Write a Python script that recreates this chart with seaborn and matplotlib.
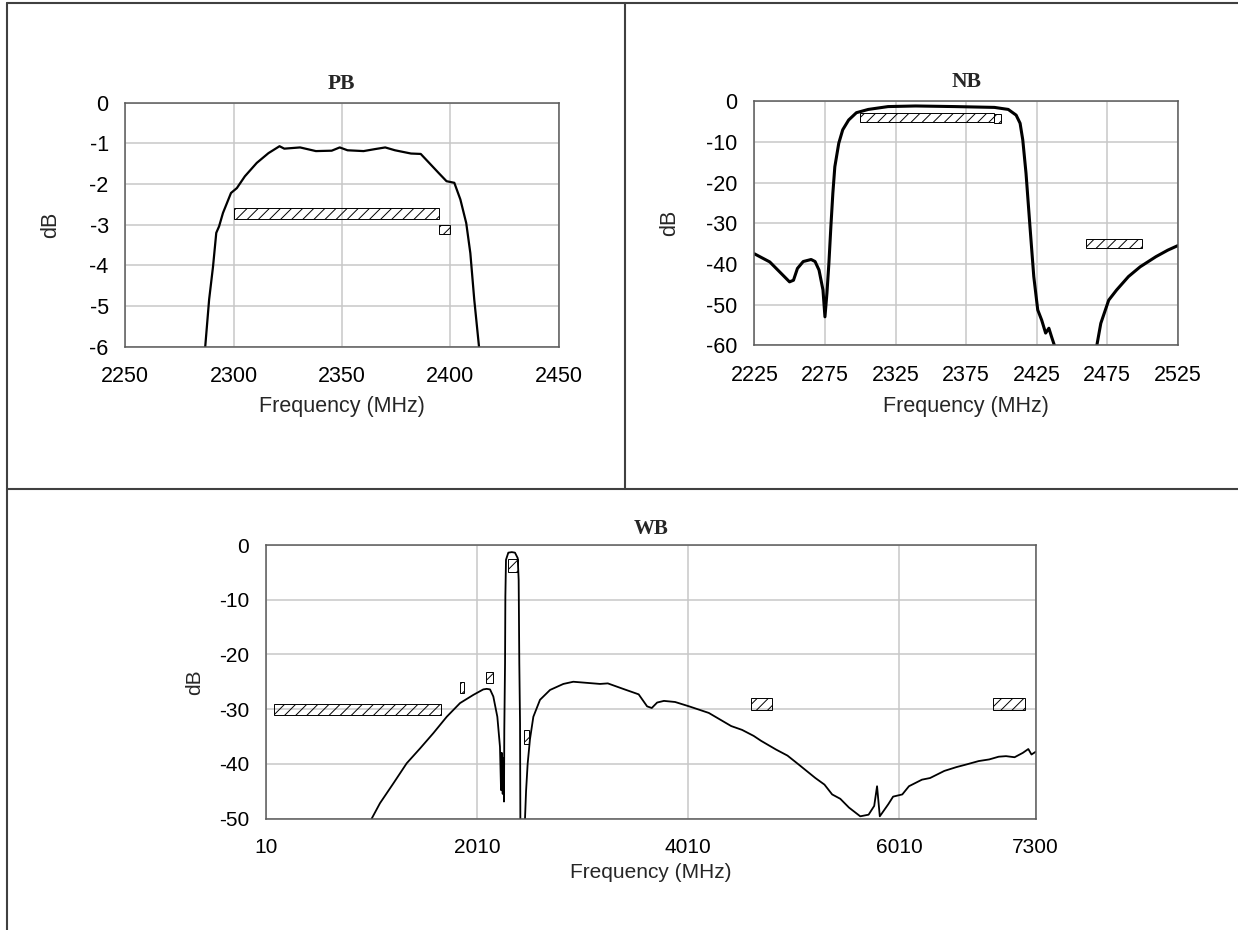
import matplotlib
matplotlib.use("Agg")
import matplotlib.pyplot as plt
import seaborn as sns
from matplotlib.lines import Line2D

# PB curve (MHz, dB)
pb_freq = [2285.5, 2286.9, 2288.7, 2290.5, 2292.0, 2293.3, 2295.1, 2298.8, 2301.5, 2305.2,
           2310.7, 2316.1, 2321.2, 2323.4, 2330.7, 2338.0, 2345.3, 2349.0, 2352.6, 2360.0,
           2365.4, 2370.0, 2374.5, 2381.9, 2386.4, 2391.0, 2394.7, 2398.3, 2401.9, 2404.7,
           2407.4, 2409.3, 2411.1, 2413.3, 2414.5]
pb_db = [-7.0, -6.0, -4.84, -4.03, -3.2, -3.04, -2.71, -2.22, -2.1, -1.81,
         -1.48, -1.24, -1.07, -1.13, -1.1, -1.19, -1.18, -1.1, -1.17, -1.19,
         -1.14, -1.1, -1.17, -1.25, -1.26, -1.52, -1.73, -1.93, -1.97, -2.38,
         -2.96, -3.7, -4.84, -6.0, -7.0]

# NB curve
nb_freq = [2225, 2235.9, 2249.9, 2252.7, 2255.5, 2259.6, 2265.2, 2268, 2270.8, 2273.6,
           2275, 2276.4, 2277.8, 2279.2, 2280.6, 2282, 2284.8, 2287.6, 2291.8, 2297.3,
           2305.7, 2319.7, 2339.2, 2367.2, 2395.1, 2404.9, 2410.5, 2413.3, 2415.2, 2417.5,
           2420.3, 2423, 2425.8, 2428.6, 2431.4, 2433.7, 2435.6, 2437.6, 2440, 2465,
           2467.7, 2470.5, 2476.1, 2481.7, 2490.1, 2498.4, 2509.6, 2518, 2525]
nb_db = [-37.5, -39.5, -44.4, -44.0, -41.1, -39.4, -38.9, -39.4, -41.5, -46.4,
         -53.0, -47.2, -39.8, -30.8, -22.6, -16.1, -10.3, -7.0, -4.6, -2.8,
         -2.0, -1.3, -1.15, -1.3, -1.5, -2.0, -3.4, -5.4, -9.5, -17.7,
         -30.8, -43.1, -51.3, -53.8, -57.0, -55.8, -57.9, -60.0, -66, -66,
         -60.0, -54.6, -48.9, -46.4, -43.1, -40.7, -38.2, -36.6, -35.5]

# WB curve
wb_freq = [950, 1014, 1092, 1218, 1345, 1471, 1597, 1724, 1850, 1976,
           2070, 2102, 2134, 2165, 2203, 2228, 2238, 2245, 2254, 2260,
           2266, 2269, 2276, 2279, 2285, 2307, 2340, 2370, 2396, 2405,
           2411, 2418, 2421, 2425, 2460, 2465, 2475, 2490, 2512, 2544,
           2607, 2702, 2828, 2922, 3049, 3175, 3249, 3408, 3541, 3621,
           3665, 3716, 3780, 3886, 4019, 4205, 4417, 4520, 4630, 4700,
           4842, 4950, 5054, 5214, 5300, 5373, 5450, 5532, 5639, 5718,
           5771, 5798, 5824, 5904, 5950, 6037, 6100, 6223, 6300, 6435,
           6550, 6648, 6760, 6860, 6950, 7019, 7100, 7178, 7230, 7260, 7300]
wb_db = [-55, -50, -47.2, -43.6, -39.9, -37.2, -34.4, -31.4, -28.9, -27.4,
         -26.4, -26.3, -26.4, -27.7, -31.4, -36.9, -44.8, -38.0, -45.5, -39.0,
         -46.9, -33.8, -21.6, -9.4, -2.7, -1.4, -1.3, -1.4, -2.4, -6.4,
         -21.6, -32.6, -50, -55, -55, -50, -45.0, -40.0, -35.5, -31.4,
         -28.3, -26.5, -25.4, -25.0, -25.2, -25.4, -25.3, -26.4, -27.3, -29.5,
         -29.8, -28.8, -28.5, -28.7, -29.5, -30.7, -33.1, -33.8, -34.9, -35.8,
         -37.4, -38.5, -40.1, -42.6, -43.8, -45.6, -46.4, -48.0, -49.6, -49.3,
         -47.7, -44.1, -49.6, -47.4, -46.0, -45.6, -44.1, -42.9, -42.6, -41.3,
         -40.6, -40.1, -39.5, -39.2, -38.7, -38.6, -38.8, -38.0, -37.3, -38.3, -37.8]

# hatched spec masks: start, stop, low, high
pb_mask_start = [2300, 2395]
pb_mask_stop = [2395, 2400]
pb_mask_low = [-2.86, -3.23]
pb_mask_high = [-2.6, -3.0]

nb_mask_start = [2300, 2395, 2460]
nb_mask_stop = [2395, 2400, 2500]
nb_mask_low = [-5.2, -5.4, -36.1]
nb_mask_high = [-3.0, -3.2, -33.9]

wb_mask_start = [90, 1850, 2100, 2300, 2460, 4600, 6900]
wb_mask_stop = [1670, 1890, 2160, 2400, 2500, 4800, 7200]
wb_mask_low = [-31.1, -27.1, -25.3, -4.9, -36.3, -30.2, -30.2]
wb_mask_high = [-29.1, -25.0, -23.2, -2.6, -33.8, -28.0, -28.0]

pb_xticks = [2250, 2300, 2350, 2400, 2450]
pb_yticks = [0, -1, -2, -3, -4, -5, -6]
nb_xticks = [2225, 2275, 2325, 2375, 2425, 2475, 2525]
nb_yticks = [0, -10, -20, -30, -40, -50, -60]
wb_xticks = [10, 2010, 4010, 6010, 7300]
wb_yticks = [0, -10, -20, -30, -40, -50]

sns.set_theme(style="whitegrid")
plt.rcParams['font.family'] = ['Liberation Sans', 'DejaVu Sans']
plt.rcParams['hatch.linewidth'] = 0.7
plt.rcParams['axes.unicode_minus'] = False

W, H = 1238, 930
fig = plt.figure(figsize=(W / 100, H / 100), dpi=100)


def px_axes(l, t, r, b):
    return fig.add_axes([l / W, 1 - b / H, (r - l) / W, (b - t) / H])


def setup(ax, title, freq, db, lw, masks, xlim, ylim, xticks, yticks,
          ylab_x, xlab_y, title_y, fs, tfs):
    sns.lineplot(x=freq, y=db, ax=ax, color="black", linewidth=lw, sort=False, estimator=None)
    start, stop, low, high = masks
    ax.bar(start, [h - l for h, l in zip(high, low)],
           width=[e - s for s, e in zip(start, stop)], bottom=low, align="edge",
           color="none", edgecolor="black", hatch="///", linewidth=0.7, zorder=3)
    ax.set_xlim(*xlim)
    ax.set_ylim(*ylim)
    ax.set_xticks(xticks)
    ax.set_yticks(yticks)
    ax.set_facecolor("white")
    ax.grid(True, color="#c8c8c8", linewidth=1.1)
    for s in ax.spines.values():
        s.set_color("#5a5a5a")
        s.set_linewidth(1.1)
        s.set_visible(True)
    ax.tick_params(axis="x", length=0, pad=14, labelsize=fs, colors="black")
    ax.tick_params(axis="y", length=0, pad=12, labelsize=fs, colors="black")
    ax.set_xlabel("Frequency (MHz)", fontsize=fs, va="center")
    ax.set_ylabel("dB", fontsize=fs, va="center")
    ax.yaxis.set_label_coords(ylab_x, 0.5)
    ax.xaxis.set_label_coords(0.5, xlab_y)
    ax.set_title(title, family=["Liberation Serif"], fontweight="bold", fontsize=tfs,
                 y=title_y, pad=0, va="center")


ax_pb = px_axes(125.3, 102.7, 558.5, 346.7)
setup(ax_pb, "PB", pb_freq, pb_db, 1.6,
      (pb_mask_start, pb_mask_stop, pb_mask_low, pb_mask_high),
      (2250, 2450), (-6, 0), pb_xticks, pb_yticks, -0.1715, -0.246, 1.078, 15.5, 15.5)

ax_nb = px_axes(754.4, 101.3, 1177.7, 345.3)
setup(ax_nb, "NB", nb_freq, nb_db, 2.2,
      (nb_mask_start, nb_mask_stop, nb_mask_low, nb_mask_high),
      (2225, 2525), (-60, 0), nb_xticks, nb_yticks, -0.201, -0.252, 1.079, 15.5, 15.5)

ax_wb = px_axes(265.7, 545, 1035.7, 818.5)
setup(ax_wb, "WB", wb_freq, wb_db, 1.3,
      (wb_mask_start, wb_mask_stop, wb_mask_low, wb_mask_high),
      (10, 7300), (-50, 0), wb_xticks, wb_yticks, -0.092, -0.196, 1.0585, 15, 15)

# table-like frame around the panels
frame = dict(transform=fig.transFigure, color="#404040", linewidth=1.5)
fig.add_artist(Line2D([7 / W, 1], [1 - 3 / H, 1 - 3 / H], **frame))
fig.add_artist(Line2D([7 / W, 7 / W], [0, 1 - 3 / H], **frame))
fig.add_artist(Line2D([7 / W, 1], [1 - 489 / H, 1 - 489 / H], **frame))
fig.add_artist(Line2D([625 / W, 625 / W], [1 - 489 / H, 1 - 3 / H], **frame))

fig.savefig("out.png", dpi=100, facecolor="white")
